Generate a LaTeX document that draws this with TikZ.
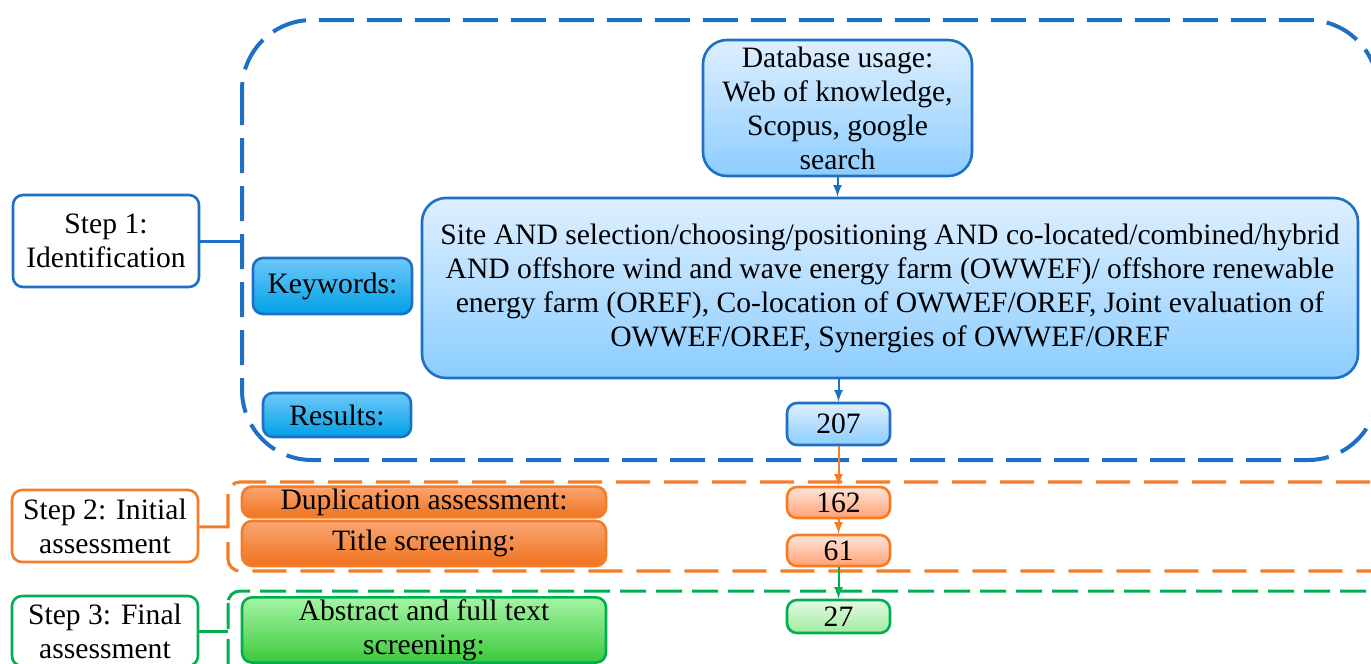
\documentclass[tikz,border=0pt]{standalone}
\usepackage{fontspec}
\setmainfont{Liberation Serif}
\usepackage{tikz}
\usetikzlibrary{arrows,positioning}
\definecolor{bline}{RGB}{30,112,196}
\definecolor{oline}{RGB}{245,125,40}
\definecolor{gline}{RGB}{0,175,80}

\begin{document}
\begin{tikzpicture}[
        x=0.5pt, y=-0.5pt,
        font=\fontsize{14.8}{17}\selectfont,
        box/.style={rectangle, draw, line width=1.3pt, rounded corners=5pt, align=center, inner sep=1pt},
        stepbox/.style={box, fill=white, minimum width=93pt, minimum height=36pt},
        keybox/.style={box, draw=bline, top color={rgb,255:red,110;green,200;blue,250}, bottom color={rgb,255:red,0;green,160;blue,230}},
        infobox/.style={box, draw=bline, rounded corners=12pt, top color={rgb,255:red,222;green,239;blue,255}, bottom color={rgb,255:red,140;green,205;blue,255}},
        obox/.style={box, draw=oline, minimum width=182pt, top color={rgb,255:red,250;green,165;blue,115}, bottom color={rgb,255:red,240;green,115;blue,30}},
        onum/.style={box, draw=oline, minimum width=51.5pt, minimum height=15.5pt, top color={rgb,255:red,255;green,230;blue,218}, bottom color={rgb,255:red,255;green,160;blue,115}},
        gbox/.style={box, draw=gline, minimum width=182pt, top color={rgb,255:red,165;green,245;blue,165}, bottom color={rgb,255:red,60;green,200;blue,60}},
        gnum/.style={box, draw=gline, minimum width=51.5pt, minimum height=16.5pt, top color={rgb,255:red,228;green,250;blue,228}, bottom color={rgb,255:red,160;green,235;blue,160}},
        frame/.style={line width=2pt, rounded corners=35pt, dash pattern=on 17.5pt off 6.5pt},
        line/.style={draw, -latex, line width=1pt}
    ]
    \useasboundingbox (0,0) rectangle (1371,664);
    \clip (0,0) rectangle (1371,664);
    % dashed frames of the three steps
    \draw [frame, bline] (242,20) rectangle (1378,460);
    \draw [frame, oline, line width=1.6pt, rounded corners=6pt, dash pattern=on 17pt off 7pt] (228,482) rectangle (1420,571);
    \draw [frame, gline, line width=1.5pt, rounded corners=6pt, dash pattern=on 13pt off 5pt] (228,591) rectangle (1420,720);
    \coordinate (frame1) at (242,241);
    \coordinate (frame2) at (228,527);
    \coordinate (frame3) at (228,631);
    % step 1: identification
    \node [stepbox, draw=bline, minimum height=46pt] (step1) at (106,241) {Step 1:\\Identification};
    \node [keybox, minimum width=79.5pt, minimum height=28pt] (keywords) at (332.5,286) {Keywords:};
    \node [keybox, minimum width=74pt, minimum height=22pt] (results) at (337,415) {Results:};
    \node [infobox, minimum width=134.5pt, minimum height=68pt] (database) at (837.5,108) {Database usage:\\Web of knowledge,\\Scopus, google\\search};
    \node [infobox, minimum width=468pt, minimum height=90pt] (search) at (890,288) {Site AND selection/choosing/positioning AND co-located/combined/hybrid\\AND offshore wind and wave energy farm (OWWEF)/ offshore renewable\\energy farm (OREF), Co-location of OWWEF/OREF, Joint evaluation of\\OWWEF/OREF, Synergies of OWWEF/OREF};
    \node [infobox, rounded corners=5pt, minimum width=51.5pt, minimum height=21pt] (n207) at (838.5,424) {207};
    % step 2: initial assessment
    \node [stepbox, draw=oline] (step2) at (105,526) {Step 2: Initial\\assessment};
    \node [obox, minimum height=15pt] (dup) at (424,502) {Duplication assessment:};
    \node [obox, minimum height=22.5pt] (title) at (424,543.5) {Title screening:};
    \node [onum] (n162) at (838.5,502.5) {162};
    \node [onum] (n61) at (838.5,550.5) {61};
    % step 3: final assessment
    \node [stepbox, draw=gline, minimum height=35pt] (step3) at (105,631) {Step 3: Final\\assessment};
    \node [gbox, minimum height=30pt] (abstract) at (424,630) {Abstract and full text\\screening:};
    \node [gnum] (n27) at (838.5,616.5) {27};
    % connectors
    \draw [bline, line width=1.5pt] (step1) -- (frame1);
    \draw [oline, line width=1.5pt] (step2) -- (frame2);
    \draw [gline, line width=1.5pt] (step3) -- (frame3);
    \path [line, bline] (database) -- (database.south |- search.north);
    \path [line, bline] (search.south -| n207) -- (n207);
    \path [line, oline] (n207) -- (n162);
    \path [line, oline] (n162) -- (n61);
    \path [line, gline] (n61) -- (n27);
\end{tikzpicture}
\end{document}
